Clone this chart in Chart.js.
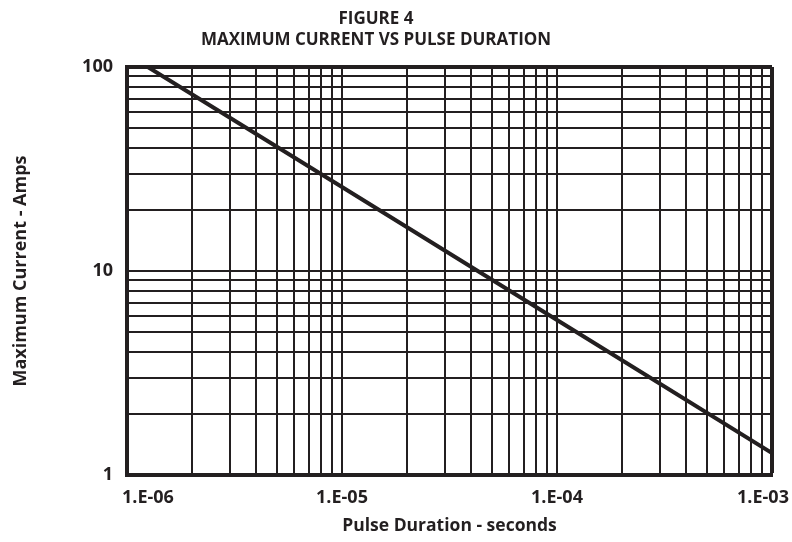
<!DOCTYPE html>
<html>
<head>
<meta charset="utf-8">
<script src="https://cdn.jsdelivr.net/npm/chart.js@4/dist/chart.umd.min.js"></script>
<style>
  html, body { margin: 0; padding: 0; background: #fff; }
  #wrap { width: 792px; height: 542px; position: relative; }
</style>
</head>
<body>
<div id="wrap"><canvas id="pulseChart"></canvas></div>
<script>
// Data (log-log, straight line)
const pulseTimes = [1.25e-6, 1e-5, 1e-4, 1e-3];   // seconds
const maxCurrents = [100, 25.8, 5.75, 1.28];       // amps

// Axis decades and their labels
const xDecades = [1e-6, 1e-5, 1e-4, 1e-3];
const xTickLabels = ["1.E-06", "1.E-05", "1.E-04", "1.E-03"];
const yDecades = [1, 10, 100];
const yTickLabels = ["1", "10", "100"];
const gridSteps = [1, 2, 3, 4, 5, 6, 7, 8, 9];

const titleLines = ["FIGURE 4", "MAXIMUM CURRENT VS PULSE DURATION"];
const xTitle = "Pulse Duration - seconds";
const yTitle = "Maximum Current - Amps";

const ink = "#231f20";

// grid ticks: 1..9 in every decade, plus the last decade itself
function gridTicks(decades) {
  const out = [];
  for (let i = 0; i < decades.length - 1; i++) {
    gridSteps.forEach(s => out.push(s * decades[i]));
  }
  out.push(decades[decades.length - 1]);
  return out;
}
const xGrid = gridTicks(xDecades);
const yGrid = gridTicks(yDecades);

Chart.defaults.font.family = "'Open Sans', sans-serif";
Chart.defaults.color = ink;

// figure title, centred a bit left of the plot like the original
const figTitle = {
  id: "figTitle",
  afterDraw(chart) {
    const c = chart.ctx;
    c.save();
    c.fillStyle = ink;
    c.font = "bold 17px 'Open Sans'";
    c.textAlign = "center";
    c.textBaseline = "alphabetic";
    c.fillText(titleLines[0], 376, 24);
    c.fillText(titleLines[1], 376, 45);
    c.restore();
  }
};

// x tick labels: first one sits inside the plot, last one pulled left
const xLabels = {
  id: "xLabels",
  afterDraw(chart) {
    const sx = chart.scales.x;
    const c = chart.ctx;
    c.save();
    c.fillStyle = ink;
    c.font = "bold 18px 'Open Sans'";
    c.textBaseline = "middle";
    xDecades.forEach((v, i) => {
      let px = sx.getPixelForValue(v);
      if (i === 0) { c.textAlign = "left"; px -= 5; }
      else if (i === xDecades.length - 1) { c.textAlign = "center"; px -= 9; }
      else { c.textAlign = "center"; }
      c.fillText(xTickLabels[i], px, 498);
    });
    c.restore();
  }
};

const ctx = document.getElementById("pulseChart").getContext("2d");

new Chart(ctx, {
  type: "line",
  data: {
    datasets: [{
      data: pulseTimes.map((t, i) => ({ x: t, y: maxCurrents[i] })),
      borderColor: ink,
      borderWidth: 4,
      pointRadius: 0,
      tension: 0,
      fill: false
    }]
  },
  plugins: [figTitle, xLabels],
  options: {
    responsive: true,
    maintainAspectRatio: false,
    animation: false,
    layout: { padding: { top: 67, right: 20, left: 0, bottom: 0 } },
    plugins: {
      legend: { display: false },
      tooltip: { enabled: false }
    },
    scales: {
      x: {
        type: "logarithmic",
        min: xDecades[0],
        max: xDecades[xDecades.length - 1],
        afterBuildTicks: s => { s.ticks = xGrid.map(v => ({ value: v })); },
        afterFit: s => { s.height = 67; },
        ticks: { display: false, autoSkip: false },
        grid: {
          color: ink,
          lineWidth: c => (c.tick && c.tick.value >= xDecades[xDecades.length - 1] * 0.999 ? 4 : 2),
          drawTicks: false
        },
        border: { display: true, color: ink, width: 4 },
        title: {
          display: true,
          text: xTitle,
          font: { size: 17.5, weight: "bold" },
          padding: { top: 0, bottom: 5 }
        }
      },
      y: {
        type: "logarithmic",
        min: yDecades[0],
        max: yDecades[yDecades.length - 1],
        afterBuildTicks: s => { s.ticks = yGrid.map(v => ({ value: v })); },
        afterFit: s => { s.width = 127; },
        ticks: {
          autoSkip: false,
          padding: 14,
          font: { size: 18, weight: "bold" },
          callback: v => {
            const i = yDecades.findIndex(d => Math.abs(v - d) / d < 1e-6);
            return i >= 0 ? yTickLabels[i] : "";
          }
        },
        grid: {
          color: ink,
          lineWidth: c => (c.tick && c.tick.value >= yDecades[yDecades.length - 1] * 0.999 ? 4 : 2),
          drawTicks: false
        },
        border: { display: true, color: ink, width: 4 },
        title: {
          display: true,
          text: yTitle,
          font: { size: 18, weight: "bold" },
          padding: { top: 10, bottom: 0 }
        }
      }
    }
  }
});
</script>
</body>
</html>
